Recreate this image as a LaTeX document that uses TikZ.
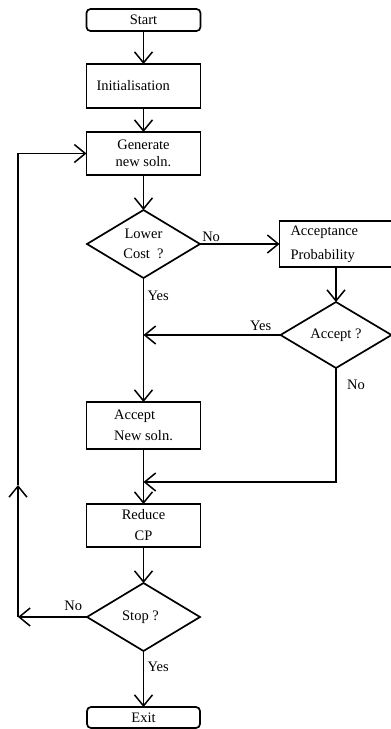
\documentclass[tikz,border=0pt]{standalone}
\usepackage{fontspec}
\setmainfont{Liberation Serif}
\usetikzlibrary{arrows.meta, shapes.geometric, calc}

\begin{document}
\begin{tikzpicture}[x=1pt, y=-1pt,
    font=\fontsize{14.5}{17}\selectfont,
    box/.style={draw, line width=1.7pt, minimum width=114pt, inner sep=0pt, outer sep=0pt},
    term/.style={box, rounded corners=4pt, minimum width=114pt, minimum height=22pt},
    test/.style={draw, diamond, aspect=1.66, line width=1.7pt, minimum width=113pt, minimum height=68pt, inner sep=0pt, outer sep=0pt, align=center},
    arr/.style={-{Straight Barb[length=11pt, width=18pt]}, line width=1.5pt}]
    \useasboundingbox (0,0) rectangle (391,729);
    \node (Start) [term] at (143.5,20) {Start};
    \node (Init) [box, minimum height=44pt, text width=94pt, inner xsep=10pt, align=left] at (143.5,86) {Initialisation};
    \node (Gen) [box, minimum height=43pt, align=center] at (143.5,153.5) {Generate\\new soln.};
    \node (Lower) [test] at (143.5,244) {Lower\\[3pt]Cost\ \ ?};
    \node (Prob) [box, minimum width=113pt, minimum height=46pt, text width=91pt, inner xsep=11pt, align=left] at (336,244) {Acceptance\\[7pt]Probability};
    \node (Acc) [test, minimum width=111pt, minimum height=66pt] at (336,335) {Accept ?};
    \node (New) [box, minimum height=47pt, align=left] at (143.5,425.5) {Accept\\[4pt]New soln.};
    \node (Red) [box, minimum height=43pt, align=center] at (143.5,525.5) {Reduce\\[4pt]CP};
    \node (Stop) [test] at (143.5,617) {Stop ?\hspace*{6pt}};
    \node (Exit) [term, minimum width=113pt, minimum height=21pt] at (143.5,717.5) {Exit};
    \coordinate (YesJoin) at (Lower.south |- Acc.west);
    \coordinate (NoCorner) at ($(Acc.south)+(0,114)$);
    \coordinate (NoJoin) at (New.south |- NoCorner);
    \coordinate (LoopLow) at ($(Stop.west)+(-69,0)$);
    \coordinate (LoopMid) at ($(LoopLow)+(0,-132)$);
    \coordinate (LoopTop) at (LoopLow |- Gen.west);
    \draw[arr] (Start.south) -- (Init.north);
    \draw[arr] (Init.south) -- (Gen.north);
    \draw[arr] (Gen.south) -- (Lower.north);
    \draw[arr] (Lower.east) -- (Prob.west) node[pos=0, anchor=south west, inner sep=1.5pt] {No};
    \draw[arr] (Prob.south) -- (Acc.north);
    \draw[arr] (Lower.south) -- node[pos=0.14, right] {Yes} (New.north);
    \draw[arr] (Acc.west) -- node[pos=0.145, above] {Yes} (YesJoin);
    \draw[arr] (Acc.south) -- node[pos=0.15, right=7pt] {No} (NoCorner) -- (NoJoin);
    \draw[arr] (New.south) -- (Red.north);
    \draw[arr] (Red.south) -- (Stop.north);
    \draw[arr] (Stop.south) -- node[pos=0.29, right] {Yes} (Exit.north);
    \draw[arr] (Stop.west) -- node[pos=0.2, above=2pt] {No} (LoopLow);
    \draw[arr] (LoopLow) -- (LoopMid);
    \draw[arr] (LoopMid) -- (LoopTop) -- (Gen.west);
\end{tikzpicture}
\end{document}
